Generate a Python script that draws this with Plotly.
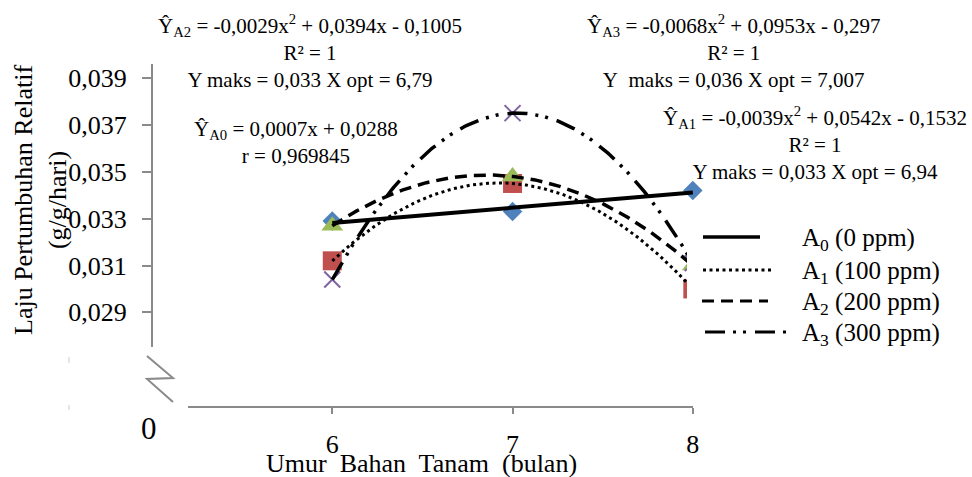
import numpy as np
import plotly.graph_objects as go

# ---------------- data ----------------
months = [6, 7, 8]
a0_values = [0.0329, 0.0333, 0.0342]
a1_values = [0.0312, 0.0345, 0.0300]
a2_values = [0.0327, 0.0348, 0.0310]
a3_values = [0.0304, 0.0375, 0.0311]

series_labels = ["A<sub>0</sub> (0 ppm)", "A<sub>1</sub> (100 ppm)",
                 "A<sub>2</sub> (200 ppm)", "A<sub>3</sub> (300 ppm)"]
y_tick_values = [0.029, 0.031, 0.033, 0.035, 0.037, 0.039]
y_tick_labels = ["0,029", "0,031", "0,033", "0,035", "0,037", "0,039"]
x_tick_values = [6, 7, 8]
x_tick_labels = ["6", "7", "8"]

eq_a2 = "Ŷ<sub>A2</sub> = -0,0029x<sup>2</sup> + 0,0394x - 0,1005<br>R² = 1<br>Y maks = 0,033 X opt = 6,79"
eq_a0 = "Ŷ<sub>A0</sub> = 0,0007x + 0,0288<br>r = 0,969845"
eq_a3 = "Ŷ<sub>A3</sub> = -0,0068x<sup>2</sup> + 0,0953x - 0,297<br>R² = 1<br>Y\u00a0 maks = 0,036 X opt = 7,007"
eq_a1 = "Ŷ<sub>A1</sub> = -0,0039x<sup>2</sup> + 0,0542x - 0,1532<br>R² = 1<br>Y maks = 0,033 X opt = 6,94"

x_title = "Umur\u00a0 Bahan\u00a0 Tanam\u00a0 (bulan)"
y_title = "Laju Pertumbuhan Relatif<br>(g/g/hari)"

# ---------------- styles ----------------
FONT = "Liberation Serif"
GREY = "#8a8a8a"
W, H = 972, 477
L, R, T, B = 152, 279, 64, 70
PW, PH = W - L - R, H - T - B


def px_x(p):
    return (p - L) / PW


def px_y(p):
    return (H - B - p) / PH


fig = go.Figure()

marker_styles = [
    dict(symbol="diamond", size=15, color="#4F81BD"),
    dict(symbol="square", size=19, color="#C0504D"),
    dict(symbol="triangle-up", size=19, color="#9BBB59"),
    dict(symbol="x-thin", size=16, color="#8064A2", line=dict(color="#8064A2", width=2)),
]
series = [a0_values, a1_values, a2_values, a3_values]
for vals, ms in zip(series, marker_styles):
    fig.add_trace(go.Scatter(x=months, y=vals, mode="markers", marker=ms,
                             cliponaxis=False, showlegend=False, hoverinfo="skip"))

# trendlines (linear for A0, quadratic for A1..A3)
line_styles = [
    dict(color="black", width=4, dash="solid"),
    dict(color="black", width=3, dash="3px,3.5px"),
    dict(color="black", width=3.5, dash="12px,7px"),
    dict(color="black", width=3.5, dash="20px,8px,3px,7px,3px,9px"),
]
xs = np.linspace(min(months), max(months), 200)
degrees = [1, 2, 2, 2]
for vals, deg, ls in zip(series, degrees, line_styles):
    coef = np.polyfit(months, vals, deg)
    fig.add_trace(go.Scatter(x=xs, y=np.polyval(coef, xs), mode="lines", line=ls,
                             cliponaxis=False, showlegend=False, hoverinfo="skip"))

shapes = []
# y axis line (broken)
shapes.append(dict(type="line", xref="paper", yref="paper", x0=0, x1=0,
                   y0=px_y(347), y1=px_y(64), line=dict(color=GREY, width=2)))
# x axis line
shapes.append(dict(type="line", xref="paper", yref="paper", x0=px_x(188), x1=px_x(693),
                   y0=0, y1=0, line=dict(color=GREY, width=2)))
# axis break symbol
pts = [(147, 356), (173, 378), (147, 379), (173, 402)]
path = "M " + " L ".join(f"{px_x(a):.5f},{px_y(b):.5f}" for a, b in pts)
shapes.append(dict(type="path", xref="paper", yref="paper", path=path,
                   line=dict(color=GREY, width=2)))
# faint marks
for y0, y1 in [(357, 363), (405, 410)]:
    shapes.append(dict(type="line", xref="paper", yref="paper", x0=px_x(69), x1=px_x(69),
                       y0=px_y(y0), y1=px_y(y1), line=dict(color="#dddddd", width=1.5)))
# legend box
shapes.append(dict(type="rect", xref="paper", yref="paper", x0=px_x(687), x1=px_x(972),
                   y0=px_y(222), y1=px_y(352), fillcolor="white", line=dict(width=0),
                   layer="above"))
legend_rows = [237, 270, 301, 332]
legend_spans = [(703, 760), (703, 771), (702, 768), (705, 788)]
for yy, (xa, xb), ls in zip(legend_rows, legend_spans, line_styles):
    shapes.append(dict(type="line", xref="paper", yref="paper", x0=px_x(xa), x1=px_x(xb),
                       y0=px_y(yy), y1=px_y(yy), layer="above",
                       line=dict(color="black", width=ls["width"] - 0.5 if ls["width"] > 3 else ls["width"],
                                 dash=ls["dash"])))

annotations = []
for yy, lab in zip(legend_rows, series_labels):
    annotations.append(dict(xref="paper", yref="paper", x=px_x(800), y=px_y(yy + 2),
                            xanchor="left", yanchor="middle", text=lab, showarrow=False,
                            font=dict(family=FONT, size=25, color="black")))

eq_font = dict(family=FONT, size=21, color="black")
for txt, cx, cy in [(eq_a2, 310, 51), (eq_a0, 296, 142), (eq_a3, 733, 51), (eq_a1, 815, 143)]:
    annotations.append(dict(xref="paper", yref="paper", x=px_x(cx), y=px_y(cy),
                            xanchor="center", yanchor="middle", align="center",
                            text=txt, showarrow=False, font=eq_font))

annotations.append(dict(xref="paper", yref="paper", x=px_x(149), y=px_y(428),
                        xanchor="center", yanchor="middle", text="0", showarrow=False,
                        font=dict(family=FONT, size=31, color="black")))
annotations.append(dict(xref="paper", yref="paper", x=px_x(421), y=px_y(463),
                        xanchor="center", yanchor="middle", text=x_title, showarrow=False,
                        font=dict(family=FONT, size=26, color="black")))
annotations.append(dict(xref="paper", yref="paper", x=px_x(41), y=px_y(200),
                        xanchor="center", yanchor="middle", text=y_title, showarrow=False,
                        textangle=-90, font=dict(family=FONT, size=26, color="black")))

fig.update_layout(
    width=W, height=H,
    margin=dict(l=L, r=R, t=T, b=B, pad=0),
    paper_bgcolor="white", plot_bgcolor="white",
    showlegend=False,
    font=dict(family=FONT, color="black"),
    xaxis=dict(range=[5.0, 8.001], tickmode="array", tickvals=x_tick_values, ticktext=x_tick_labels,
               ticks="outside", ticklen=6, tickwidth=2, tickcolor=GREY,
               showline=False, showgrid=False, zeroline=False,
               tickfont=dict(family=FONT, size=26, color="black"), ticklabelstandoff=8),
    yaxis=dict(range=[0.024963, 0.039597], tickmode="array", tickvals=y_tick_values,
               ticktext=y_tick_labels, ticks="outside", ticklen=9, tickwidth=2, tickcolor=GREY,
               showline=False, showgrid=False, zeroline=False,
               tickfont=dict(family=FONT, size=26, color="black"), ticklabelstandoff=10),
    shapes=shapes,
    annotations=annotations,
)

fig.write_html("out.html")
